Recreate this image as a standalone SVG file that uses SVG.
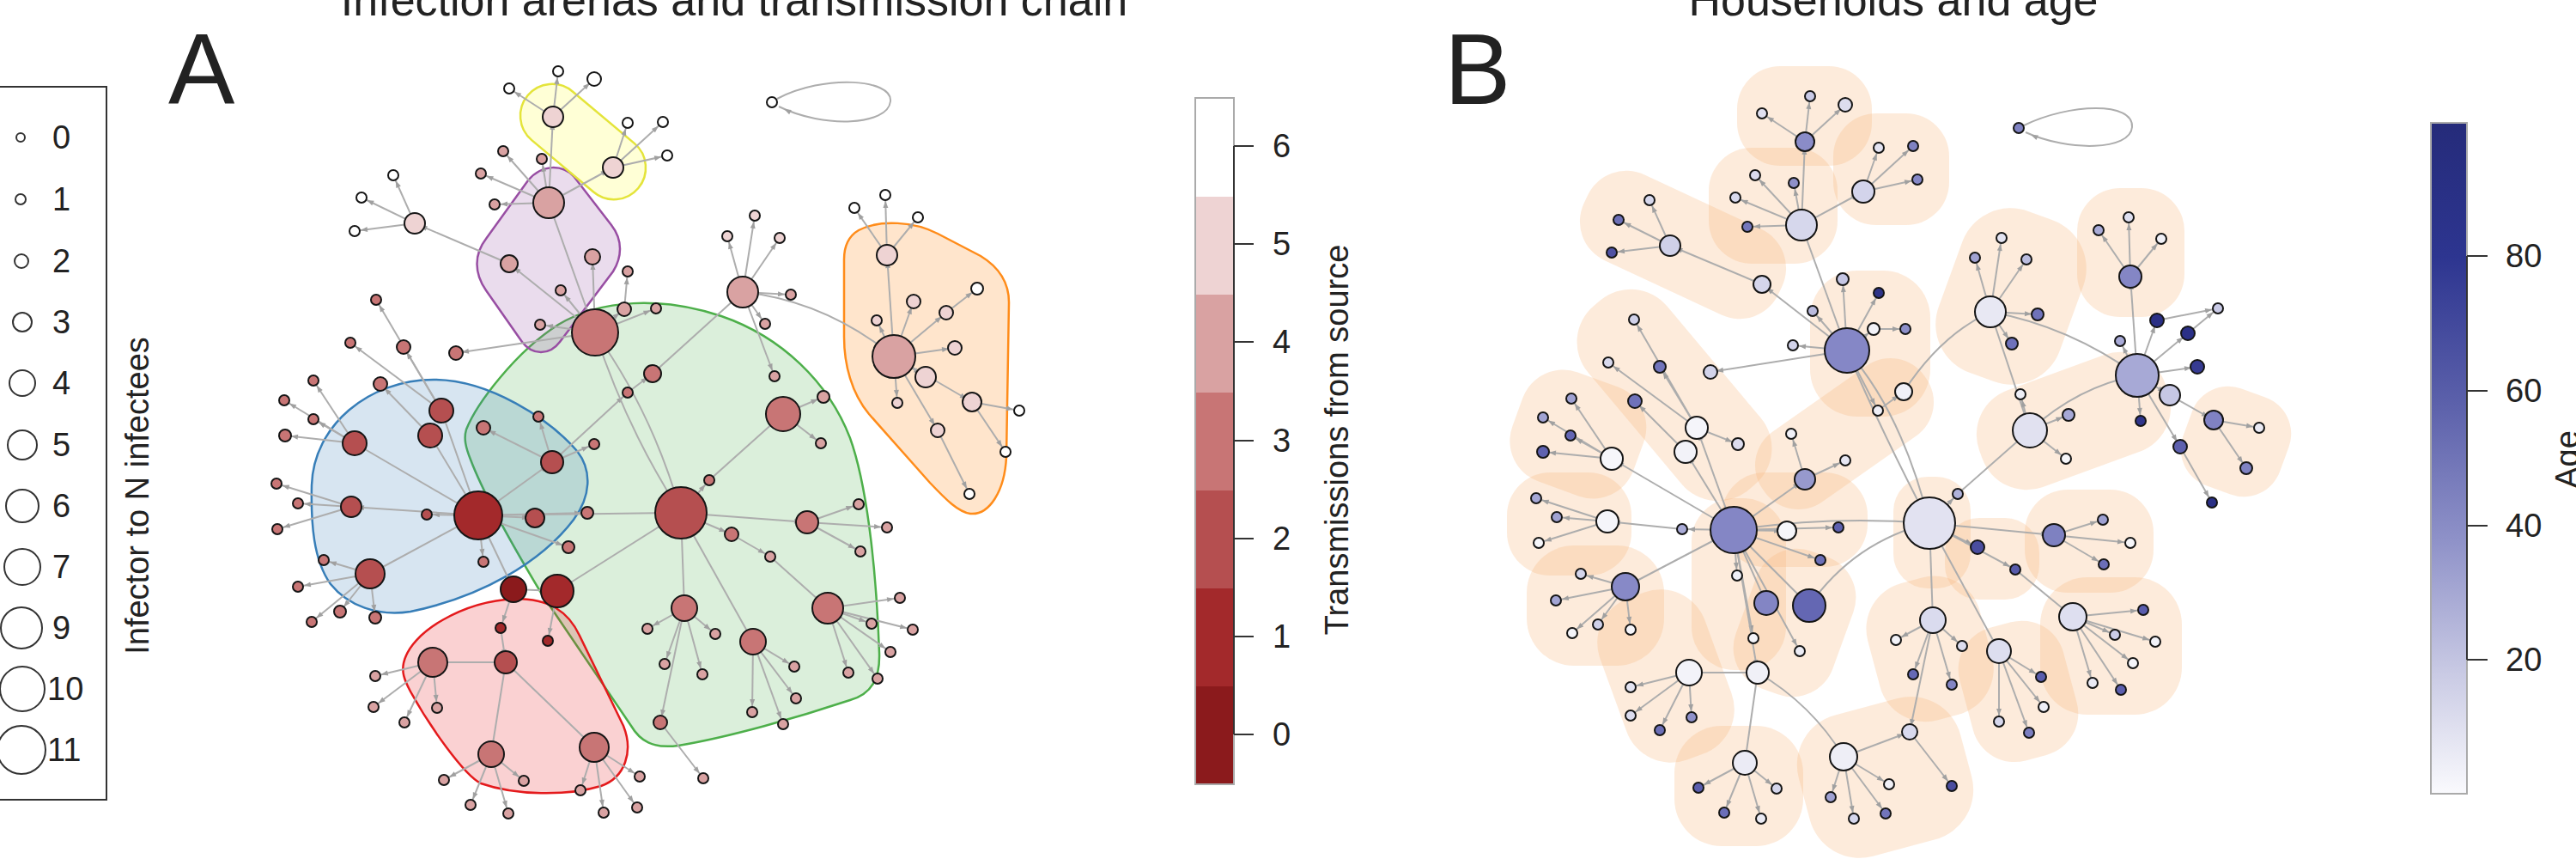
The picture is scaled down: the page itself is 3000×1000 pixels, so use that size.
<svg xmlns="http://www.w3.org/2000/svg" width="3000" height="1000" viewBox="0 0 3000 1000">
<defs>
<marker id="ar" markerUnits="userSpaceOnUse" markerWidth="10" markerHeight="8" refX="15" refY="3" orient="auto" overflow="visible"><path d="M0,0L8,3L0,6z" fill="#a0a0a0"/></marker>
<linearGradient id="ageg" x1="0" y1="0" x2="0" y2="1"><stop offset="0" stop-color="#252b7a"/><stop offset="0.2" stop-color="#2d3590"/><stop offset="0.42" stop-color="#5c61ab"/><stop offset="0.62" stop-color="#8e91c8"/><stop offset="0.82" stop-color="#c9cae4"/><stop offset="1" stop-color="#fafafd"/></linearGradient>
</defs>
<style>
text{font-family:"Liberation Sans",Arial,sans-serif;fill:#222}
.e line,.e path{stroke:#adadad;stroke-width:2;fill:none;marker-end:url(#ar)}
.n circle{stroke:#151515;stroke-width:2}
.l0{fill:#8b1a1c}.l1{fill:#a3292b}.l2{fill:#b54f50}.l3{fill:#c87575}.l4{fill:#d9a2a2}.l5{fill:#eed3d3}.l6{fill:#fff}
.hb{fill:#f6b57a;fill-opacity:0.27;stroke:none}
.lg circle{fill:#fff;stroke:#333;stroke-width:2}
.tk{stroke:#333;stroke-width:2}
</style>
<rect width="3000" height="1000" fill="#fff"/>

<!-- titles -->
<text x="855" y="18" font-size="52" text-anchor="middle">Infection arenas and transmission chain</text>
<text x="2205" y="18" font-size="52" text-anchor="middle">Households and age</text>
<text x="196" y="121" font-size="116">A</text>
<text x="1682" y="121" font-size="116">B</text>

<!-- legend -->
<g id="legend" class="lg">
<rect x="-3" y="101" width="127" height="830" fill="none" stroke="#333" stroke-width="2"/>
<circle cx="24" cy="160" r="5"/><circle cx="24" cy="232" r="6"/><circle cx="25" cy="304" r="8"/><circle cx="26" cy="375" r="11"/><circle cx="26" cy="446" r="15"/><circle cx="26" cy="518" r="17"/><circle cx="26" cy="589" r="19"/><circle cx="26" cy="660" r="21"/><circle cx="25" cy="731" r="24"/><circle cx="26" cy="802" r="26"/><circle cx="25" cy="873" r="28"/>
<g font-size="38">
<text x="61" y="173">0</text><text x="61" y="245">1</text><text x="61" y="317">2</text><text x="61" y="388">3</text><text x="61" y="459">4</text><text x="61" y="531">5</text><text x="61" y="602">6</text><text x="61" y="673">7</text><text x="61" y="744">9</text><text x="55" y="815">10</text><text x="55" y="886">11</text>
</g>
<text transform="translate(173,577) rotate(-90)" font-size="38" text-anchor="middle">Infector to N infectees</text>
</g>

<!-- colorbar A -->
<g id="colorbarA">
<rect x="1392" y="114" width="45" height="115" fill="#ffffff"/>
<rect x="1392" y="229" width="45" height="115" fill="#eed3d3"/>
<rect x="1392" y="343" width="45" height="115" fill="#d9a2a2"/>
<rect x="1392" y="457" width="45" height="115" fill="#c87575"/>
<rect x="1392" y="571" width="45" height="115" fill="#b54f50"/>
<rect x="1392" y="685" width="45" height="115" fill="#a3292b"/>
<rect x="1392" y="799" width="45" height="114" fill="#8b1a1c"/>
<rect x="1392" y="114" width="45" height="799" fill="none" stroke="#aaa" stroke-width="2"/>
<line class="tk" x1="1437" y1="170" x2="1437" y2="855"/>
<line class="tk" x1="1437" y1="170" x2="1460" y2="170"/><line class="tk" x1="1437" y1="284" x2="1460" y2="284"/><line class="tk" x1="1437" y1="398" x2="1460" y2="398"/><line class="tk" x1="1437" y1="513" x2="1460" y2="513"/><line class="tk" x1="1437" y1="627" x2="1460" y2="627"/><line class="tk" x1="1437" y1="741" x2="1460" y2="741"/><line class="tk" x1="1437" y1="855" x2="1460" y2="855"/>
<g font-size="38"><text x="1482" y="183">6</text><text x="1482" y="297">5</text><text x="1482" y="411">4</text><text x="1482" y="526">3</text><text x="1482" y="640">2</text><text x="1482" y="754">1</text><text x="1482" y="868">0</text></g>
<text transform="translate(1570,512) rotate(-90)" font-size="38" text-anchor="middle">Transmissions from source</text>
</g>

<!-- colorbar B -->
<g id="colorbarB">
<rect x="2831" y="143" width="42" height="781" fill="url(#ageg)" stroke="#aaa" stroke-width="2"/>
<line class="tk" x1="2873" y1="298" x2="2873" y2="768"/>
<line class="tk" x1="2873" y1="298" x2="2897" y2="298"/><line class="tk" x1="2873" y1="455" x2="2897" y2="455"/><line class="tk" x1="2873" y1="612" x2="2897" y2="612"/><line class="tk" x1="2873" y1="768" x2="2897" y2="768"/>
<g font-size="38"><text x="2918" y="311">80</text><text x="2918" y="468">60</text><text x="2918" y="625">40</text><text x="2918" y="781">20</text></g>
<text transform="translate(3003,535) rotate(-90)" font-size="38" text-anchor="middle">Age</text>
</g>

<!-- arenas A -->
<g id="arenas">
<path id="arena-green" d="M543,500 C555,470 600,410 650,378 C700,348 770,345 840,368 C910,392 965,445 990,510 C1008,560 1020,650 1024,760 C1025,790 1015,808 990,815 C930,835 850,858 790,868 C760,872 745,862 735,845 L630,690 C600,640 565,580 548,535 C542,520 540,510 543,500 Z" fill="#4daf4a" fill-opacity="0.2" stroke="#4daf4a" stroke-width="2.5"/>
<path id="arena-blue" d="M505,442 C570,442 640,488 672,525 C690,548 688,578 668,605 C630,655 560,695 478,712 C440,718 405,705 385,680 C365,652 362,610 363,565 C365,495 430,442 505,442 Z" fill="#377eb8" fill-opacity="0.2" stroke="#377eb8" stroke-width="2.5"/>
<path id="arena-red" d="M470,772 C478,735 540,700 600,697 C640,697 662,712 675,740 L726,845 C738,875 728,905 700,915 C660,927 600,926 560,912 C540,902 500,845 478,805 C470,790 468,782 470,772 Z" fill="#e41a1c" fill-opacity="0.2" stroke="#e41a1c" stroke-width="2.5"/>
<path id="arena-purple" d="M615,210 C632,190 655,192 668,205 L712,262 C726,280 724,300 714,316 L652,398 C640,414 620,414 608,398 L566,338 C552,318 552,296 566,278 Z" fill="#984ea3" fill-opacity="0.2" stroke="#984ea3" stroke-width="2.5"/>
<rect id="arena-yellow" x="595" y="128" width="168" height="74" rx="37" transform="rotate(40 679 165)" fill="#ffff33" fill-opacity="0.2" stroke="#e4e43a" stroke-width="2.5"/>
<path id="arena-orange" d="M1000,268 C1025,255 1065,258 1092,272 L1142,298 C1165,312 1175,330 1175,352 L1172,532 C1170,572 1152,600 1130,598 C1116,596 1102,582 1083,562 L1012,482 C992,458 983,425 983,392 L983,302 C983,287 988,275 1000,268 Z" fill="#ff7f00" fill-opacity="0.2" stroke="#ff8c1a" stroke-width="2.5"/>
</g>

<!-- households B -->
<g id="households">
<rect class="hb" x="2023" y="77" width="157" height="116" rx="50"/>
<rect class="hb" x="2135" y="132" width="135" height="130" rx="50"/>
<rect class="hb" x="1990" y="172" width="150" height="135" rx="50"/>
<rect class="hb" x="1835" y="230" width="250" height="110" rx="50" transform="rotate(25 1960 285)"/>
<rect class="hb" x="2108" y="315" width="140" height="170" rx="55"/>
<rect class="hb" x="1810" y="400" width="280" height="120" rx="55" transform="rotate(50 1950 460)"/>
<rect class="hb" x="1763" y="438" width="150" height="135" rx="50" transform="rotate(20 1838 505)"/>
<rect class="hb" x="2033" y="455" width="230" height="100" rx="48" transform="rotate(-35 2148 505)"/>
<rect class="hb" x="1755" y="550" width="145" height="120" rx="50"/>
<rect class="hb" x="1778" y="635" width="160" height="140" rx="55"/>
<rect class="hb" x="1875" y="687" width="130" height="200" rx="55" transform="rotate(-20 1940 787)"/>
<rect class="hb" x="1950" y="845" width="150" height="140" rx="55"/>
<rect class="hb" x="2098" y="820" width="195" height="170" rx="60" transform="rotate(-15 2195 905)"/>
<rect class="hb" x="2180" y="673" width="135" height="165" rx="55" transform="rotate(-15 2247 755)"/>
<rect class="hb" x="2288" y="725" width="125" height="160" rx="50" transform="rotate(-15 2350 805)"/>
<rect class="hb" x="2376" y="672" width="165" height="160" rx="55"/>
<rect class="hb" x="2358" y="570" width="150" height="120" rx="50"/>
<rect class="hb" x="2265" y="603" width="110" height="95" rx="40"/>
<rect class="hb" x="2544" y="454" width="120" height="120" rx="45" transform="rotate(20 2604 514)"/>
<rect class="hb" x="2419" y="219" width="125" height="150" rx="50"/>
<rect class="hb" x="2267" y="245" width="150" height="200" rx="60" transform="rotate(20 2342 345)"/>
<rect class="hb" x="2300" y="430" width="230" height="120" rx="55" transform="rotate(-20 2415 490)"/>
<rect class="hb" x="1970" y="580" width="110" height="200" rx="50"/>
<rect class="hb" x="2030" y="640" width="120" height="170" rx="50" transform="rotate(20 2090 725)"/>
<rect class="hb" x="2005" y="550" width="170" height="110" rx="50"/>
<rect class="hb" x="2205" y="555" width="90" height="130" rx="40"/>
</g>

<!-- connectors -->
<g id="connectors" class="e">
<path d="M905,115 C960,86 1040,92 1037,118 C1034,146 960,150 907,124"/>
<path d="M2357,146 C2410,120 2485,118 2483,148 C2481,175 2410,177 2359,154"/>
<line x1="598" y1="686" x2="557" y2="600"/><line x1="598" y1="686" x2="649" y2="688"/><line x1="598" y1="686" x2="583" y2="731"/><line x1="649" y1="688" x2="638" y2="746"/><line x1="649" y1="688" x2="793" y2="597"/><line x1="583" y1="731" x2="589" y2="771"/><line x1="589" y1="771" x2="504" y2="771"/><line x1="589" y1="771" x2="572" y2="878"/><line x1="589" y1="771" x2="692" y2="870"/>
<line x1="557" y1="600" x2="497" y2="599"/><line x1="557" y1="600" x2="409" y2="590"/><line x1="557" y1="600" x2="413" y2="516"/><line x1="557" y1="600" x2="431" y2="668"/><line x1="557" y1="600" x2="514" y2="478"/><line x1="557" y1="600" x2="501" y2="507"/><line x1="557" y1="600" x2="643" y2="538"/><line x1="557" y1="600" x2="623" y2="603"/><line x1="557" y1="600" x2="684" y2="597"/><line x1="557" y1="600" x2="662" y2="637"/><line x1="557" y1="600" x2="563" y2="654"/><line x1="557" y1="600" x2="793" y2="597"/>
<line x1="413" y1="516" x2="331" y2="466"/><line x1="413" y1="516" x2="365" y2="488"/><line x1="413" y1="516" x2="332" y2="507"/><line x1="413" y1="516" x2="365" y2="443"/>
<line x1="409" y1="590" x2="322" y2="563"/><line x1="409" y1="590" x2="347" y2="586"/><line x1="409" y1="590" x2="323" y2="616"/>
<line x1="431" y1="668" x2="377" y2="652"/><line x1="431" y1="668" x2="347" y2="683"/><line x1="431" y1="668" x2="396" y2="712"/><line x1="431" y1="668" x2="363" y2="724"/><line x1="431" y1="668" x2="437" y2="719"/>
<line x1="514" y1="478" x2="438" y2="349"/><line x1="514" y1="478" x2="408" y2="399"/><line x1="514" y1="478" x2="470" y2="404"/><line x1="501" y1="507" x2="443" y2="447"/>
<line x1="643" y1="538" x2="563" y2="498"/><line x1="643" y1="538" x2="627" y2="485"/><line x1="643" y1="538" x2="692" y2="517"/><line x1="643" y1="538" x2="731" y2="457"/><line x1="731" y1="457" x2="760" y2="435"/><line x1="760" y1="435" x2="865" y2="340"/>
<path d="M793,597 Q730,500 693,387"/><path d="M793,597 Q760,480 693,387"/>
<line x1="793" y1="597" x2="826" y2="559"/><line x1="793" y1="597" x2="940" y2="608"/><line x1="793" y1="597" x2="852" y2="622"/><line x1="793" y1="597" x2="797" y2="708"/><line x1="793" y1="597" x2="877" y2="747"/>
<line x1="693" y1="387" x2="531" y2="411"/><line x1="693" y1="387" x2="639" y2="236"/><line x1="693" y1="387" x2="593" y2="307"/><line x1="693" y1="387" x2="690" y2="299"/><line x1="693" y1="387" x2="653" y2="338"/><line x1="693" y1="387" x2="629" y2="378"/><line x1="693" y1="387" x2="727" y2="360"/><line x1="693" y1="387" x2="764" y2="359"/><line x1="727" y1="360" x2="731" y2="316"/>
<line x1="639" y1="236" x2="586" y2="176"/><line x1="639" y1="236" x2="631" y2="185"/><line x1="639" y1="236" x2="560" y2="202"/><line x1="639" y1="236" x2="576" y2="238"/><line x1="639" y1="236" x2="644" y2="136"/><line x1="639" y1="236" x2="714" y2="195"/>
<line x1="644" y1="136" x2="650" y2="83"/><line x1="644" y1="136" x2="692" y2="92"/><line x1="644" y1="136" x2="593" y2="103"/>
<line x1="714" y1="195" x2="731" y2="143"/><line x1="714" y1="195" x2="772" y2="142"/><line x1="714" y1="195" x2="777" y2="181"/>
<line x1="593" y1="307" x2="483" y2="260"/><line x1="483" y1="260" x2="458" y2="204"/><line x1="483" y1="260" x2="421" y2="230"/><line x1="483" y1="260" x2="413" y2="269"/>
<line x1="865" y1="340" x2="879" y2="251"/><line x1="865" y1="340" x2="847" y2="275"/><line x1="865" y1="340" x2="908" y2="277"/><line x1="865" y1="340" x2="921" y2="343"/><line x1="865" y1="340" x2="891" y2="377"/><line x1="865" y1="340" x2="902" y2="438"/><path d="M865,340 Q960,350 1041,415"/>
<line x1="826" y1="559" x2="912" y2="482"/><line x1="912" y1="482" x2="959" y2="462"/><line x1="912" y1="482" x2="956" y2="516"/>
<line x1="940" y1="608" x2="1000" y2="587"/><line x1="940" y1="608" x2="1033" y2="614"/><line x1="940" y1="608" x2="1002" y2="642"/>
<line x1="852" y1="622" x2="897" y2="648"/><line x1="897" y1="648" x2="964" y2="708"/>
<line x1="964" y1="708" x2="1048" y2="696"/><line x1="964" y1="708" x2="1015" y2="726"/><line x1="964" y1="708" x2="1063" y2="733"/><line x1="964" y1="708" x2="1037" y2="759"/><line x1="964" y1="708" x2="988" y2="783"/><line x1="964" y1="708" x2="1022" y2="790"/>
<line x1="797" y1="708" x2="754" y2="732"/><line x1="797" y1="708" x2="833" y2="738"/><line x1="797" y1="708" x2="774" y2="773"/><line x1="797" y1="708" x2="818" y2="785"/><line x1="797" y1="708" x2="769" y2="841"/><line x1="769" y1="841" x2="819" y2="906"/>
<line x1="877" y1="747" x2="925" y2="776"/><line x1="877" y1="747" x2="927" y2="813"/><line x1="877" y1="747" x2="876" y2="829"/><line x1="877" y1="747" x2="912" y2="843"/>
<line x1="504" y1="771" x2="437" y2="787"/><line x1="504" y1="771" x2="435" y2="823"/><line x1="504" y1="771" x2="509" y2="824"/><line x1="504" y1="771" x2="471" y2="841"/>
<line x1="572" y1="878" x2="517" y2="908"/><line x1="572" y1="878" x2="610" y2="909"/><line x1="572" y1="878" x2="548" y2="937"/><line x1="572" y1="878" x2="592" y2="947"/>
<line x1="692" y1="870" x2="676" y2="920"/><line x1="692" y1="870" x2="745" y2="904"/><line x1="692" y1="870" x2="703" y2="946"/><line x1="692" y1="870" x2="742" y2="940"/>
<line x1="1041" y1="415" x2="1033" y2="297"/><line x1="1041" y1="415" x2="1064" y2="351"/><line x1="1041" y1="415" x2="1102" y2="364"/><line x1="1041" y1="415" x2="1021" y2="373"/><line x1="1041" y1="415" x2="1112" y2="405"/><line x1="1041" y1="415" x2="1078" y2="439"/><line x1="1041" y1="415" x2="1045" y2="469"/><line x1="1041" y1="415" x2="1132" y2="468"/><line x1="1041" y1="415" x2="1092" y2="501"/><line x1="1102" y1="364" x2="1138" y2="336"/>
<line x1="1033" y1="297" x2="995" y2="242"/><line x1="1033" y1="297" x2="1031" y2="227"/><line x1="1033" y1="297" x2="1069" y2="253"/>
<line x1="1132" y1="468" x2="1187" y2="478"/><line x1="1132" y1="468" x2="1171" y2="526"/><line x1="1092" y1="501" x2="1129" y2="575"/>

<line x1="2102" y1="165" x2="2108" y2="112"/><line x1="2102" y1="165" x2="2149" y2="122"/><line x1="2102" y1="165" x2="2052" y2="132"/>
<line x1="2098" y1="262" x2="2102" y2="165"/><line x1="2098" y1="262" x2="2044" y2="204"/><line x1="2098" y1="262" x2="2089" y2="213"/><line x1="2098" y1="262" x2="2021" y2="230"/><line x1="2098" y1="262" x2="2035" y2="264"/><line x1="2098" y1="262" x2="2170" y2="223"/>
<line x1="2170" y1="223" x2="2188" y2="172"/><line x1="2170" y1="223" x2="2228" y2="170"/><line x1="2170" y1="223" x2="2233" y2="209"/>
<line x1="2151" y1="408" x2="2098" y2="262"/><line x1="2151" y1="408" x2="2052" y2="331"/><line x1="2052" y1="331" x2="1945" y2="286"/>
<line x1="1945" y1="286" x2="1921" y2="233"/><line x1="1945" y1="286" x2="1885" y2="256"/><line x1="1945" y1="286" x2="1877" y2="294"/>
<line x1="2151" y1="408" x2="2146" y2="325"/><line x1="2151" y1="408" x2="2188" y2="341"/><line x1="2151" y1="408" x2="2111" y2="362"/><line x1="2151" y1="408" x2="2088" y2="402"/><line x1="2151" y1="408" x2="2182" y2="383"/><line x1="2182" y1="383" x2="2219" y2="383"/><line x1="2151" y1="408" x2="1992" y2="433"/><line x1="2151" y1="408" x2="2187" y2="478"/><line x1="2187" y1="478" x2="2217" y2="456"/><path d="M2217,456 Q2260,390 2318,363"/>
<path d="M2151,408 Q2215,480 2247,609"/><path d="M2151,408 Q2190,500 2247,609"/>
<line x1="2019" y1="617" x2="1976" y2="498"/><line x1="2019" y1="617" x2="1963" y2="526"/>
<line x1="1976" y1="498" x2="1903" y2="372"/><line x1="1976" y1="498" x2="1873" y2="422"/><line x1="1976" y1="498" x2="1933" y2="427"/><line x1="1976" y1="498" x2="2024" y2="517"/><line x1="1963" y1="526" x2="1904" y2="467"/>
<line x1="2019" y1="617" x2="1877" y2="534"/><line x1="1877" y1="534" x2="1830" y2="464"/><line x1="1877" y1="534" x2="1797" y2="486"/><line x1="1877" y1="534" x2="1829" y2="507"/><line x1="1877" y1="534" x2="1797" y2="526"/>
<line x1="2019" y1="617" x2="2102" y2="558"/><line x1="2102" y1="558" x2="2086" y2="505"/><line x1="2102" y1="558" x2="2149" y2="536"/>
<line x1="2019" y1="617" x2="1959" y2="616"/><line x1="1959" y1="616" x2="1872" y2="607"/><line x1="1872" y1="607" x2="1789" y2="580"/><line x1="1872" y1="607" x2="1813" y2="602"/><line x1="1872" y1="607" x2="1792" y2="632"/>
<line x1="2019" y1="617" x2="1893" y2="683"/><line x1="1893" y1="683" x2="1841" y2="668"/><line x1="1893" y1="683" x2="1812" y2="699"/><line x1="1893" y1="683" x2="1831" y2="737"/><line x1="1893" y1="683" x2="1861" y2="727"/><line x1="1893" y1="683" x2="1899" y2="733"/>
<line x1="2019" y1="617" x2="2081" y2="618"/><line x1="2019" y1="617" x2="2141" y2="614"/><line x1="2019" y1="617" x2="2120" y2="652"/><line x1="2019" y1="617" x2="2023" y2="670"/><line x1="2019" y1="617" x2="2057" y2="702"/><line x1="2019" y1="617" x2="2042" y2="743"/><line x1="2019" y1="617" x2="2096" y2="758"/><line x1="2019" y1="617" x2="2107" y2="705"/>
<path d="M2019,617 Q2130,600 2247,609"/><path d="M2107,705 Q2160,630 2247,609"/>
<line x1="2019" y1="617" x2="2047" y2="783"/><line x1="2047" y1="783" x2="1967" y2="783"/><line x1="2047" y1="783" x2="2032" y2="888"/><path d="M2047,783 Q2110,820 2147,881"/>
<line x1="1967" y1="783" x2="1899" y2="800"/><line x1="1967" y1="783" x2="1899" y2="833"/><line x1="1967" y1="783" x2="1933" y2="850"/><line x1="1967" y1="783" x2="1970" y2="835"/>
<line x1="2032" y1="888" x2="1978" y2="917"/><line x1="2032" y1="888" x2="2069" y2="918"/><line x1="2032" y1="888" x2="2008" y2="946"/><line x1="2032" y1="888" x2="2051" y2="953"/>
<line x1="2147" y1="881" x2="2132" y2="928"/><line x1="2147" y1="881" x2="2200" y2="913"/><line x1="2147" y1="881" x2="2159" y2="953"/><line x1="2147" y1="881" x2="2196" y2="947"/><line x1="2147" y1="881" x2="2224" y2="852"/>
<line x1="2251" y1="722" x2="2224" y2="852"/><line x1="2224" y1="852" x2="2273" y2="915"/>
<line x1="2247" y1="609" x2="2280" y2="575"/><line x1="2280" y1="575" x2="2364" y2="501"/><line x1="2247" y1="609" x2="2303" y2="637"/><line x1="2247" y1="609" x2="2347" y2="663"/><line x1="2247" y1="609" x2="2392" y2="623"/><line x1="2247" y1="609" x2="2251" y2="722"/><line x1="2247" y1="609" x2="2328" y2="758"/><line x1="2347" y1="663" x2="2414" y2="718"/>
<line x1="2392" y1="623" x2="2449" y2="605"/><line x1="2392" y1="623" x2="2481" y2="632"/><line x1="2392" y1="623" x2="2450" y2="657"/>
<line x1="2414" y1="718" x2="2496" y2="710"/><line x1="2414" y1="718" x2="2463" y2="739"/><line x1="2414" y1="718" x2="2510" y2="747"/><line x1="2414" y1="718" x2="2484" y2="772"/><line x1="2414" y1="718" x2="2437" y2="795"/><line x1="2414" y1="718" x2="2470" y2="803"/>
<line x1="2251" y1="722" x2="2208" y2="745"/><line x1="2251" y1="722" x2="2285" y2="752"/><line x1="2251" y1="722" x2="2228" y2="785"/><line x1="2251" y1="722" x2="2273" y2="797"/>
<line x1="2328" y1="758" x2="2377" y2="788"/><line x1="2328" y1="758" x2="2328" y2="840"/><line x1="2328" y1="758" x2="2363" y2="853"/><line x1="2328" y1="758" x2="2380" y2="823"/>
<line x1="2364" y1="501" x2="2318" y2="363"/><line x1="2364" y1="501" x2="2353" y2="459"/><line x1="2364" y1="501" x2="2409" y2="483"/><line x1="2364" y1="501" x2="2406" y2="534"/><path d="M2364,501 Q2420,450 2489,437"/>
<line x1="2318" y1="363" x2="2331" y2="277"/><line x1="2318" y1="363" x2="2300" y2="300"/><line x1="2318" y1="363" x2="2360" y2="302"/><line x1="2318" y1="363" x2="2373" y2="366"/><line x1="2318" y1="363" x2="2343" y2="400"/><path d="M2318,363 Q2410,380 2489,437"/>
<line x1="2489" y1="437" x2="2481" y2="322"/><line x1="2489" y1="437" x2="2469" y2="397"/><line x1="2489" y1="437" x2="2512" y2="373"/><line x1="2489" y1="437" x2="2548" y2="388"/><line x1="2489" y1="437" x2="2559" y2="427"/><line x1="2489" y1="437" x2="2527" y2="460"/><line x1="2489" y1="437" x2="2493" y2="490"/><line x1="2489" y1="437" x2="2539" y2="520"/>
<line x1="2512" y1="373" x2="2583" y2="359"/><line x1="2548" y1="388" x2="2583" y2="359"/>
<line x1="2481" y1="322" x2="2479" y2="253"/><line x1="2481" y1="322" x2="2444" y2="268"/><line x1="2481" y1="322" x2="2517" y2="278"/>
<line x1="2527" y1="460" x2="2578" y2="489"/><line x1="2578" y1="489" x2="2631" y2="498"/><line x1="2578" y1="489" x2="2616" y2="545"/><line x1="2539" y1="520" x2="2576" y2="585"/>
</g>

<!-- nodes A -->
<g id="nodesA" class="n">
<circle id="a0" class="l0" cx="598" cy="686" r="15"/>
<circle class="l1" cx="557" cy="600" r="28"/><circle class="l1" cx="649" cy="688" r="19"/><circle class="l1" cx="583" cy="731" r="6"/><circle class="l1" cx="638" cy="746" r="6"/>
<circle class="l2" cx="413" cy="516" r="14"/><circle class="l2" cx="514" cy="478" r="14"/><circle class="l2" cx="501" cy="507" r="14"/><circle class="l2" cx="409" cy="590" r="12"/><circle class="l2" cx="431" cy="668" r="17"/><circle class="l2" cx="643" cy="538" r="13"/><circle class="l2" cx="623" cy="603" r="11"/><circle class="l2" cx="793" cy="597" r="30"/><circle class="l2" cx="589" cy="771" r="13"/><circle class="l2" cx="497" cy="599" r="6"/>
<circle class="l3" cx="331" cy="466" r="6"/><circle class="l3" cx="365" cy="488" r="6"/><circle class="l3" cx="332" cy="507" r="7"/><circle class="l3" cx="322" cy="563" r="6"/><circle class="l3" cx="347" cy="586" r="6"/><circle class="l3" cx="323" cy="616" r="6"/><circle class="l3" cx="377" cy="652" r="6"/><circle class="l3" cx="347" cy="683" r="6"/><circle class="l3" cx="396" cy="712" r="7"/><circle class="l3" cx="363" cy="724" r="6"/><circle class="l3" cx="437" cy="719" r="7"/><circle class="l3" cx="365" cy="443" r="6"/><circle class="l3" cx="438" cy="349" r="6"/><circle class="l3" cx="408" cy="399" r="6"/><circle class="l3" cx="470" cy="404" r="8"/><circle class="l3" cx="531" cy="411" r="8"/><circle class="l3" cx="443" cy="447" r="8"/><circle class="l3" cx="563" cy="498" r="8"/><circle class="l3" cx="627" cy="485" r="6"/><circle class="l3" cx="692" cy="517" r="6"/><circle class="l3" cx="684" cy="597" r="7"/><circle class="l3" cx="662" cy="637" r="7"/><circle class="l3" cx="563" cy="654" r="6"/><circle class="l3" cx="731" cy="457" r="6"/><circle class="l3" cx="760" cy="435" r="10"/><circle class="l3" cx="693" cy="387" r="27"/><circle class="l3" cx="826" cy="559" r="6"/><circle class="l3" cx="912" cy="482" r="20"/><circle class="l3" cx="940" cy="608" r="13"/><circle class="l3" cx="852" cy="622" r="8"/><circle class="l3" cx="797" cy="708" r="15"/><circle class="l3" cx="964" cy="708" r="18"/><circle class="l3" cx="877" cy="747" r="15"/><circle class="l3" cx="504" cy="771" r="17"/><circle class="l3" cx="572" cy="878" r="15"/><circle class="l3" cx="692" cy="870" r="17"/><circle class="l3" cx="769" cy="841" r="8"/>
<circle class="l4" cx="639" cy="236" r="18"/><circle class="l4" cx="593" cy="307" r="10"/><circle class="l4" cx="690" cy="299" r="9"/><circle class="l4" cx="731" cy="316" r="6"/><circle class="l4" cx="653" cy="338" r="6"/><circle class="l4" cx="629" cy="378" r="6"/><circle class="l4" cx="727" cy="360" r="8"/><circle class="l4" cx="764" cy="359" r="6"/><circle class="l4" cx="586" cy="176" r="6"/><circle class="l4" cx="631" cy="185" r="6"/><circle class="l4" cx="560" cy="202" r="6"/><circle class="l4" cx="576" cy="238" r="6"/><circle class="l4" cx="865" cy="340" r="18"/><circle class="l4" cx="921" cy="343" r="6"/><circle class="l4" cx="891" cy="377" r="6"/><circle class="l4" cx="902" cy="438" r="6"/><circle class="l4" cx="959" cy="462" r="7"/><circle class="l4" cx="956" cy="516" r="6"/><circle class="l4" cx="1000" cy="587" r="6"/><circle class="l4" cx="1033" cy="614" r="6"/><circle class="l4" cx="1002" cy="642" r="6"/><circle class="l4" cx="897" cy="648" r="6"/><circle class="l4" cx="1048" cy="696" r="6"/><circle class="l4" cx="1015" cy="726" r="6"/><circle class="l4" cx="1063" cy="733" r="6"/><circle class="l4" cx="1037" cy="759" r="6"/><circle class="l4" cx="988" cy="783" r="6"/><circle class="l4" cx="1022" cy="790" r="6"/><circle class="l4" cx="754" cy="732" r="6"/><circle class="l4" cx="833" cy="738" r="6"/><circle class="l4" cx="774" cy="773" r="6"/><circle class="l4" cx="818" cy="785" r="6"/><circle class="l4" cx="819" cy="906" r="6"/><circle class="l4" cx="925" cy="776" r="6"/><circle class="l4" cx="927" cy="813" r="6"/><circle class="l4" cx="876" cy="829" r="6"/><circle class="l4" cx="912" cy="843" r="6"/><circle class="l4" cx="1041" cy="415" r="25"/><circle class="l4" cx="437" cy="787" r="6"/><circle class="l4" cx="435" cy="823" r="6"/><circle class="l4" cx="509" cy="824" r="6"/><circle class="l4" cx="471" cy="841" r="6"/><circle class="l4" cx="517" cy="908" r="6"/><circle class="l4" cx="610" cy="909" r="6"/><circle class="l4" cx="548" cy="937" r="6"/><circle class="l4" cx="592" cy="947" r="6"/><circle class="l4" cx="676" cy="920" r="6"/><circle class="l4" cx="745" cy="904" r="6"/><circle class="l4" cx="703" cy="946" r="6"/><circle class="l4" cx="742" cy="940" r="6"/>
<circle class="l5" cx="644" cy="136" r="12"/><circle class="l5" cx="714" cy="195" r="12"/><circle class="l5" cx="483" cy="260" r="12"/><circle class="l5" cx="879" cy="251" r="6"/><circle class="l5" cx="847" cy="275" r="6"/><circle class="l5" cx="908" cy="277" r="6"/><circle class="l5" cx="1033" cy="297" r="12"/><circle class="l5" cx="1064" cy="351" r="8"/><circle class="l5" cx="1102" cy="364" r="8"/><circle class="l5" cx="1021" cy="373" r="6"/><circle class="l5" cx="1112" cy="405" r="8"/><circle class="l5" cx="1078" cy="439" r="12"/><circle class="l5" cx="1045" cy="469" r="6"/><circle class="l5" cx="1132" cy="468" r="11"/><circle class="l5" cx="1092" cy="501" r="8"/>
<circle class="l6" cx="650" cy="83" r="6"/><circle class="l6" cx="692" cy="92" r="8"/><circle class="l6" cx="593" cy="103" r="6"/><circle class="l6" cx="731" cy="143" r="6"/><circle class="l6" cx="772" cy="142" r="6"/><circle class="l6" cx="777" cy="181" r="6"/><circle class="l6" cx="899" cy="119" r="6"/><circle class="l6" cx="458" cy="204" r="6"/><circle class="l6" cx="421" cy="230" r="6"/><circle class="l6" cx="413" cy="269" r="6"/><circle class="l6" cx="995" cy="242" r="6"/><circle class="l6" cx="1031" cy="227" r="6"/><circle class="l6" cx="1069" cy="253" r="6"/><circle class="l6" cx="1138" cy="336" r="7"/><circle class="l6" cx="1187" cy="478" r="6"/><circle class="l6" cx="1171" cy="526" r="6"/><circle class="l6" cx="1129" cy="575" r="6"/>
</g>

<!-- nodes B -->
<g id="nodesB" class="n">
<circle cx="2108" cy="112" r="6" fill="#c8c9e6"/><circle cx="2149" cy="122" r="8" fill="#dcdcee"/><circle cx="2052" cy="132" r="6" fill="#e0e0f0"/><circle cx="2102" cy="165" r="11" fill="#8a8cc8"/><circle cx="2188" cy="172" r="6" fill="#e3e3f1"/><circle cx="2228" cy="170" r="6" fill="#7f82c2"/><circle cx="2233" cy="209" r="6" fill="#8587c6"/><circle cx="2170" cy="223" r="13" fill="#d3d4eb"/><circle cx="2044" cy="204" r="6" fill="#dadbee"/><circle cx="2089" cy="213" r="6" fill="#8e90c9"/><circle cx="2021" cy="230" r="6" fill="#d8d9ed"/><circle cx="2035" cy="264" r="6" fill="#7477bc"/><circle cx="2098" cy="262" r="18" fill="#d6d7ec"/><circle cx="1921" cy="233" r="6" fill="#d6d7ec"/><circle cx="1885" cy="256" r="6" fill="#6d70b7"/><circle cx="1877" cy="294" r="6" fill="#4f52a3"/><circle cx="1945" cy="286" r="12" fill="#cfd0e8"/><circle cx="2052" cy="331" r="10" fill="#d4d5eb"/><circle cx="2146" cy="325" r="7" fill="#c5c6e4"/><circle cx="2188" cy="341" r="6" fill="#2f3488"/><circle cx="2111" cy="362" r="6" fill="#b9badd"/><circle cx="2088" cy="402" r="6" fill="#d2d3ea"/><circle cx="2151" cy="408" r="26" fill="#8587c6"/><circle cx="2182" cy="383" r="7" fill="#f2f2f8"/><circle cx="2219" cy="383" r="6" fill="#8d8fc9"/><circle cx="2217" cy="456" r="10" fill="#f0f0f7"/><circle cx="2187" cy="478" r="6" fill="#eeeef6"/><circle cx="1903" cy="372" r="6" fill="#d0d1e9"/><circle cx="1873" cy="422" r="6" fill="#d8d9ed"/><circle cx="1933" cy="427" r="7" fill="#7174bb"/><circle cx="1992" cy="433" r="8" fill="#d2d3ea"/><circle cx="1904" cy="467" r="8" fill="#6f72ba"/><circle cx="1976" cy="498" r="13" fill="#f5f5fa"/><circle cx="1963" cy="526" r="13" fill="#f2f2f8"/><circle cx="2024" cy="517" r="7" fill="#dcdcee"/><circle cx="1830" cy="464" r="6" fill="#9fa1d2"/><circle cx="1797" cy="486" r="6" fill="#a1a3d3"/><circle cx="1829" cy="507" r="6" fill="#6366b4"/><circle cx="1797" cy="526" r="7" fill="#5f62b0"/><circle cx="1877" cy="534" r="13" fill="#f6f6fa"/><circle cx="2086" cy="505" r="6" fill="#f0f0f7"/><circle cx="2149" cy="536" r="6" fill="#e6e6f2"/><circle cx="2102" cy="558" r="12" fill="#9799cd"/><circle cx="1789" cy="580" r="6" fill="#a5a7d5"/>
<circle cx="2351" cy="149" r="6" fill="#7f82c2"/><circle cx="2479" cy="253" r="6" fill="#dedff0"/><circle cx="2444" cy="268" r="6" fill="#a9abd7"/><circle cx="2517" cy="278" r="6" fill="#f0f0f7"/><circle cx="2481" cy="322" r="13" fill="#8486c5"/><circle cx="2331" cy="277" r="6" fill="#e3e3f1"/><circle cx="2300" cy="300" r="6" fill="#a0a2d2"/><circle cx="2360" cy="302" r="6" fill="#babcdf"/><circle cx="2318" cy="363" r="18" fill="#e8e8f3"/><circle cx="2373" cy="366" r="7" fill="#6f72ba"/><circle cx="2343" cy="400" r="7" fill="#6e71ba"/><circle cx="2469" cy="397" r="6" fill="#a8aad7"/><circle cx="2512" cy="373" r="8" fill="#2a2f85"/><circle cx="2583" cy="359" r="6" fill="#c9cae6"/><circle cx="2548" cy="388" r="8" fill="#2b3087"/><circle cx="2559" cy="427" r="8" fill="#363b92"/><circle cx="2489" cy="437" r="25" fill="#a7a9d6"/><circle cx="2527" cy="460" r="12" fill="#c6c7e4"/><circle cx="2493" cy="490" r="6" fill="#30358b"/><circle cx="2353" cy="459" r="6" fill="#eeeef6"/><circle cx="2409" cy="483" r="7" fill="#a6a8d6"/><circle cx="2364" cy="501" r="20" fill="#e1e1f0"/><circle cx="2406" cy="534" r="6" fill="#f6f6fa"/><circle cx="2578" cy="489" r="11" fill="#8082c3"/><circle cx="2631" cy="498" r="6" fill="#eaeaf4"/><circle cx="2616" cy="545" r="7" fill="#7f82c2"/><circle cx="2539" cy="520" r="8" fill="#5d60ae"/><circle cx="2576" cy="585" r="6" fill="#2a2f85"/><circle cx="2280" cy="575" r="6" fill="#b0b2da"/>
<circle cx="1813" cy="602" r="6" fill="#a0a2d2"/><circle cx="1872" cy="607" r="13" fill="#f5f5fa"/><circle cx="1792" cy="632" r="6" fill="#f6f6fa"/><circle cx="1959" cy="616" r="6" fill="#a9abd7"/><circle cx="2019" cy="617" r="27" fill="#8486c5"/><circle cx="2081" cy="618" r="11" fill="#f6f6fa"/><circle cx="2141" cy="614" r="6" fill="#5d60ae"/><circle cx="2120" cy="652" r="6" fill="#6c6fb7"/><circle cx="2247" cy="609" r="30" fill="#e2e2f1"/><circle cx="2392" cy="623" r="13" fill="#7e81c1"/><circle cx="2449" cy="605" r="6" fill="#9ea0d1"/><circle cx="2481" cy="632" r="6" fill="#f6f6fa"/><circle cx="2450" cy="657" r="6" fill="#6b6eb8"/><circle cx="2303" cy="637" r="8" fill="#4a4d9f"/><circle cx="2347" cy="663" r="6" fill="#585bab"/><circle cx="1893" cy="683" r="16" fill="#8789c7"/><circle cx="1841" cy="668" r="6" fill="#d4d5eb"/><circle cx="1812" cy="699" r="6" fill="#a2a4d3"/><circle cx="1831" cy="737" r="6" fill="#f4f4f9"/><circle cx="1861" cy="727" r="6" fill="#cfd0e8"/><circle cx="1899" cy="733" r="6" fill="#f4f4f9"/><circle cx="2023" cy="670" r="6" fill="#f0f0f7"/><circle cx="2057" cy="702" r="14" fill="#8385c4"/><circle cx="2107" cy="705" r="19" fill="#6467b3"/><circle cx="2042" cy="743" r="6" fill="#f4f4f9"/><circle cx="2096" cy="758" r="6" fill="#ececf5"/><circle cx="2251" cy="722" r="15" fill="#dadbee"/><circle cx="2208" cy="745" r="6" fill="#f2f2f8"/><circle cx="2285" cy="752" r="6" fill="#dcdcee"/><circle cx="2328" cy="758" r="14" fill="#dddeef"/><circle cx="2414" cy="718" r="16" fill="#dedff0"/><circle cx="2496" cy="710" r="6" fill="#5a5dad"/><circle cx="2463" cy="739" r="6" fill="#cbcce7"/><circle cx="2510" cy="747" r="6" fill="#f2f2f8"/><circle cx="2484" cy="772" r="6" fill="#f4f4f9"/><circle cx="2437" cy="795" r="6" fill="#eaeaf4"/><circle cx="2470" cy="803" r="6" fill="#5c5fae"/>
<circle cx="1967" cy="783" r="15" fill="#f3f3f9"/><circle cx="2047" cy="783" r="13" fill="#f0f0f7"/><circle cx="1899" cy="800" r="6" fill="#e3e3f1"/><circle cx="1899" cy="833" r="6" fill="#dcdcee"/><circle cx="1933" cy="850" r="6" fill="#6c6fb7"/><circle cx="1970" cy="835" r="6" fill="#8f91ca"/><circle cx="2228" cy="785" r="6" fill="#6669b5"/><circle cx="2273" cy="797" r="6" fill="#8385c4"/><circle cx="2377" cy="788" r="6" fill="#5a5dad"/><circle cx="2328" cy="840" r="6" fill="#d6d7ec"/><circle cx="2363" cy="853" r="6" fill="#7b7ec0"/><circle cx="2380" cy="823" r="6" fill="#eeeef6"/><circle cx="2224" cy="852" r="9" fill="#d8d9ed"/><circle cx="2032" cy="888" r="14" fill="#ebebf5"/><circle cx="2147" cy="881" r="16" fill="#eeeef6"/><circle cx="1978" cy="917" r="6" fill="#5a5dad"/><circle cx="2069" cy="918" r="6" fill="#d4d5eb"/><circle cx="2008" cy="946" r="6" fill="#6b6eb8"/><circle cx="2051" cy="953" r="6" fill="#eaeaf4"/><circle cx="2132" cy="928" r="6" fill="#9fa1d2"/><circle cx="2200" cy="913" r="6" fill="#f0f0f7"/><circle cx="2159" cy="953" r="6" fill="#d5d6ec"/><circle cx="2196" cy="947" r="6" fill="#7275bb"/><circle cx="2273" cy="915" r="6" fill="#4a4d9f"/>
</g>
</svg>
